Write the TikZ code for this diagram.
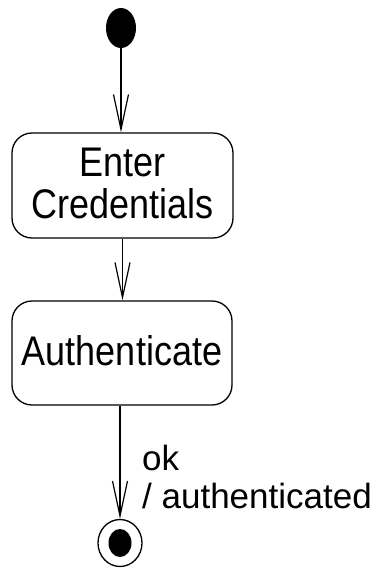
\documentclass[tikz,border=0pt]{standalone}
\usepackage{fontspec}
\setmainfont{Liberation Sans}
\usetikzlibrary{shapes.geometric,arrows.meta}
% tall, slightly condensed lettering used inside the state boxes
\newcommand{\tallword}[1]{\scalebox{1}[1.15]{#1}}
\begin{document}
\begin{tikzpicture}[x=1pt,y=-1pt,
  state/.style={draw, line width=1.3pt, rounded corners=20pt, inner sep=0pt,
    align=center, font=\fontsize{36}{42}\selectfont},
  trans/.style={line width=1.3pt, -{Straight Barb[length=35pt,width=15pt,line width=1.2pt]}},
  lbl/.style={align=left, inner sep=0pt, font=\fontsize{35}{38}\selectfont}]
  \useasboundingbox[fill=white] (0,0) rectangle (378,574);

  % initial pseudo-state
  \node[ellipse, fill=black, minimum width=30pt, minimum height=40pt, inner sep=0pt]
    (start) at (121,28) {};

  % activity states
  \node[state, minimum width=221pt, minimum height=105pt] (enter) at (122.5,185.5)
    {\tallword{Enter}\\\tallword{Credentials}\rule[-4pt]{0pt}{4pt}};
  \node[state, minimum width=220pt, minimum height=104pt] (auth) at (122,353)
    {\tallword{Authenticate}\rule[-6pt]{0pt}{6pt}};

  % final pseudo-state
  \node[ellipse, draw, line width=1.3pt, minimum width=44pt, minimum height=47pt, inner sep=0pt]
    (final) at (120,543) {};
  \node[ellipse, fill=black, minimum width=23pt, minimum height=28pt, inner sep=0pt]
    (finaldot) at (final.center) {};

  % transitions
  \draw[trans] (start) -- (start |- enter.north);
  \draw[trans] (enter) -- (enter |- auth.north);
  \draw[trans] (final |- auth.south) -- (final);

  % guard / action label (base anchor sits on the last line)
  \node[lbl, anchor=base west] (guard) at (142,508) {ok\\/ authenticated};
\end{tikzpicture}
\end{document}
